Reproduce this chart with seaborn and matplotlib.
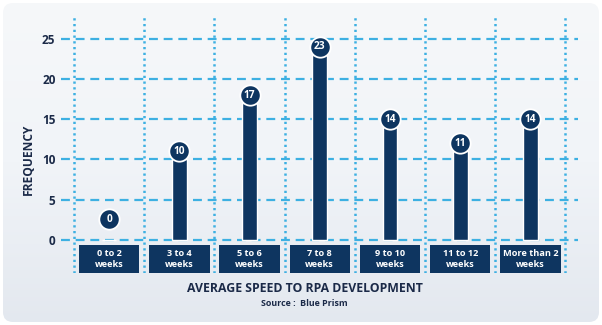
import numpy as np
import pandas as pd
import matplotlib
matplotlib.use("Agg")
import matplotlib.pyplot as plt
import seaborn as sns
from matplotlib.patches import FancyBboxPatch, Rectangle
from matplotlib.colors import LinearSegmentedColormap

categories = ["0 to 2\nweeks", "3 to 4\nweeks", "5 to 6\nweeks", "7 to 8\nweeks",
              "9 to 10\nweeks", "11 to 12\nweeks", "More than 2\nweeks"]
values = [0, 10, 17, 23, 14, 11, 14]
yticks = [0, 5, 10, 15, 20, 25]
x_title = "AVERAGE SPEED TO RPA DEVELOPMENT"
y_title = "FREQUENCY"
source = "Source :  Blue Prism"

NAVY = "#0e3560"
GRID = "#3db0e2"
TXT = "#1b2a48"

sns.set_theme(style="white")
plt.rcParams['font.family'] = ['Open Sans', 'DejaVu Sans']

fig = plt.figure(figsize=(6.02, 3.25), dpi=100)
fig.patch.set_facecolor("white")

# background rounded panel with a soft vertical gradient
bg = fig.add_axes([0, 0, 1, 1], zorder=-10)
bg.set_xlim(0, 602); bg.set_ylim(0, 325); bg.axis("off")
panel = FancyBboxPatch((3, 3), 596, 319, boxstyle="round,pad=0,rounding_size=10",
                       transform=bg.transData, facecolor="none", edgecolor="none")
bg.add_patch(panel)
grad = np.linspace(0, 1, 256).reshape(-1, 1)
cmap = LinearSegmentedColormap.from_list("bgc", ["#e3e8ef", "#f1f4f8", "#f6f8fa"])
im = bg.imshow(grad, extent=[0, 602, 0, 325], origin="lower", cmap=cmap, aspect="auto")
im.set_clip_path(panel)

# main axes: left 61px, right 578px, top 17px, bottom 273px
L, R, T, B = 61, 578, 17, 273
ax = fig.add_axes([L / 602, 1 - B / 325, (R - L) / 602, (B - T) / 325])
ax.set_facecolor("none")

df = pd.DataFrame({"cat": categories, "val": values})
sns.barplot(data=df, x="cat", y="val", color=NAVY, width=0.21, saturation=1,
            ax=ax, zorder=3)

ax.set_xlim(-0.5 - 13 / 70.2, 6.5 + 12.5 / 70.2)
ax.set_ylim(-4.1, 27.7)

ax.set_yticks(yticks)
ax.set_yticklabels([str(t) for t in yticks], fontsize=8.5, fontweight="bold", color=TXT)
ax.tick_params(axis="y", length=0, pad=4)
ax.set_xticks([])
ax.tick_params(axis="x", which="both", length=0, labelbottom=False)

for t in yticks:
    ax.axhline(t, color=GRID, lw=1.6, ls=(0, (4, 2.6)), zorder=1)
for xg in np.arange(-0.5, 7.0, 1.0):
    ax.axvline(xg, color=GRID, lw=1.8, ls=(0, (0.9, 1.4)), zorder=1)

for s in ax.spines.values():
    s.set_visible(False)
ax.set_xlabel("")
ax.set_ylabel("")

# category boxes
for i, c in enumerate(categories):
    ax.add_patch(Rectangle((i - 0.5 + 0.07, -4.1), 0.86, 3.48, facecolor=NAVY,
                           edgecolor="none", zorder=4))
    ax.text(i, -2.36, c, ha="center", va="center", color="white", fontsize=6.6,
            fontweight="bold", linespacing=1.25, zorder=5)

# value bubbles
ly = [v + 1.0 if v > 0 else 2.6 for v in values]
ax.scatter(range(len(values)), ly, s=215, color=NAVY, edgecolor="white",
           linewidth=1.3, zorder=6)
for i, (v, y) in enumerate(zip(values, ly)):
    ax.text(i, y, str(v), ha="center", va="center", color="white", fontsize=7.3,
            fontweight="bold", zorder=7)

fig.text(28 / 602, 1 - 159 / 325, y_title, rotation=90, ha="center", va="center",
         fontsize=8.6, fontweight="bold", color=TXT)
fig.text(305 / 602, 1 - 289 / 325, x_title, ha="center", va="center",
         fontsize=8.8, fontweight="bold", color=TXT)
fig.text(304 / 602, 1 - 304 / 325, source, ha="center", va="center",
         fontsize=6.4, fontweight="bold", color=TXT)

fig.savefig("out.png", dpi=100, facecolor="white")
